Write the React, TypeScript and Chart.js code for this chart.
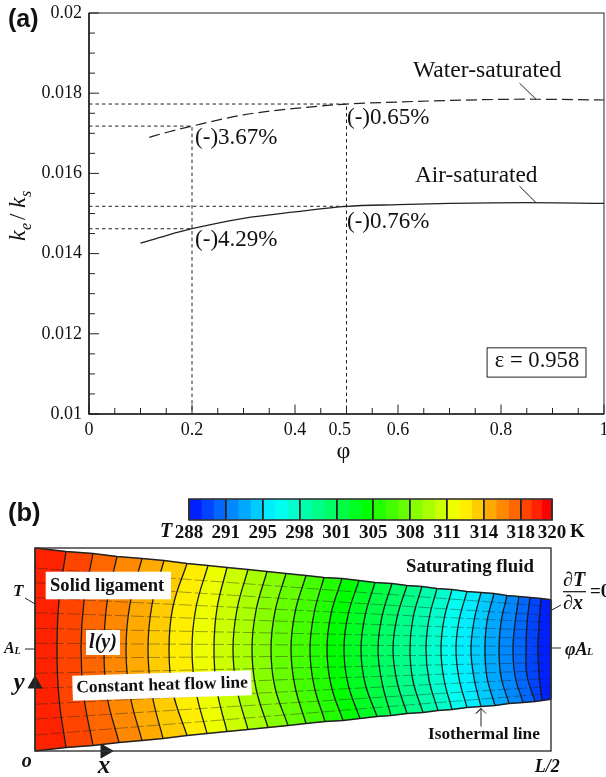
import React, { useEffect, useRef } from "react";
import { Chart, registerables } from "chart.js";

Chart.register(...registerables);

const SERIF = "'Liberation Serif'";
const SANS = "'Liberation Sans'";
const INK = "#222222";

/* ---------- panel (a) data ---------- */
const airPhi = [0.1, 0.15, 0.2, 0.3, 0.4, 0.5, 0.6, 0.7, 0.85, 1];
const airK = [0.01426, 0.01445, 0.01462, 0.01488, 0.01504, 0.01518, 0.01522, 0.01525, 0.01527, 0.01525];
const waterPhi = [0.117, 0.15, 0.2, 0.3, 0.4, 0.5, 0.6, 0.7, 0.85, 1];
const waterK = [0.0169, 0.01702, 0.01718, 0.01746, 0.01762, 0.01773, 0.01778, 0.01782, 0.01785, 0.01783];
const guideLines = [
  [[0, 0.01773], [0.5, 0.01773], [0.5, 0.01]],
  [[0, 0.01718], [0.2, 0.01718], [0.2, 0.01]],
  [[0, 0.01518], [0.5, 0.01518]],
  [[0, 0.01462], [0.2, 0.01462]],
];
const leaderLines = [
  [[0.836, 0.01825], [0.868, 0.01785]],
  [[0.836, 0.01568], [0.868, 0.01527]],
];
const xTickValues = [0, 0.05, 0.1, 0.15, 0.2, 0.25, 0.3, 0.35, 0.4, 0.45, 0.5, 0.55, 0.6, 0.65, 0.7, 0.75, 0.8, 0.85, 0.9, 0.95, 1];
const xMajor = [0, 0.2, 0.4, 0.6, 0.8, 1];
const xLabels: Record<string, string> = { "0": "0", "0.2": "0.2", "0.4": "0.4", "0.5": "0.5   ", "0.6": "0.6", "0.8": "0.8", "1": "1" };
const yTickValues = [0.01, 0.0105, 0.011, 0.0115, 0.012, 0.0125, 0.013, 0.0135, 0.014, 0.0145, 0.015, 0.0155, 0.016, 0.0165, 0.017, 0.0175, 0.018, 0.0185, 0.019, 0.0195, 0.02];
const yLabels: Record<string, string> = { "0.01": "0.01", "0.012": "0.012", "0.014": "0.014", "0.016": "0.016", "0.018": "0.018", "0.02": "0.02" };
const panelALabels: [string, number, number, number][] = [
  ["Water-saturated", 0.629, 0.01855, 23.6],
  ["Air-saturated", 0.633, 0.01593, 23.3],
  ["(-)3.67%", 0.206, 0.01689, 23],
  ["(-)4.29%", 0.206, 0.01434, 23],
  ["(-)0.65%", 0.501, 0.01738, 23],
  ["(-)0.76%", 0.501, 0.01478, 23],
];

/* ---------- colour bar data ---------- */
const cbBlockEdges = [288, 289.08, 290.17, 291.25, 292.33, 293.42, 294.5, 295.58, 296.67, 297.75, 298.83, 299.92, 301, 302.08, 303.17, 304.25, 305.33, 306.42, 307.5, 308.58, 309.67, 310.75, 311.83, 312.92, 314, 315.08, 316.17, 317.25, 318.17, 319.08, 320];
const cbTickValues = [288, 291.25, 294.5, 297.75, 301, 304.25, 307.5, 310.75, 314, 317.25, 320];
const cbTickLabels = ["288", "291", "295", "298", "301", "305", "308", "311", "314", "318", "320"];
const blockColors = [
  "#0020ff", "#0044ff", "#0068ff", "#0088ff", "#00a8ff", "#00ccff",
  "#00eeff", "#00ffee", "#00ffcc", "#00ffaa", "#00ff88", "#00ff66",
  "#00ff44", "#00ff22", "#00ff00", "#22ff00", "#44ff00", "#66ff00",
  "#88ff00", "#aaff00", "#ccff00", "#eeff00", "#ffee00", "#ffcc00",
  "#ffaa00", "#ff8800", "#ff6600", "#ff4400", "#ff2200", "#ff0000",
];

/* ---------- panel (b) data: distance along the ligament, half-height ---------- */
const isoTopX = [31, 58, 82, 107, 129, 152, 173, 192, 213, 232, 251, 271, 289, 307, 324, 340, 357, 372, 387, 402, 417, 432, 446, 459, 472, 484, 495, 506];
const isoTopY = [98, 96, 93, 91, 89, 86, 84, 82, 80, 78, 76, 74, 72, 71, 69, 67, 66, 64, 63, 61, 60, 58, 57, 56, 54, 53, 52, 51];
const isoQuarterX = [24, 49, 72, 95, 117, 138, 161, 182, 202, 221, 240, 260, 279, 296, 313, 330, 347, 362, 378, 394, 409, 424, 439, 452, 466, 480, 492, 504];
const isoMidX = [22, 46, 69, 91, 113, 134, 157, 179, 198, 217, 236, 256, 275, 292, 309, 326, 343, 358, 375, 391, 406, 421, 436, 450, 464, 478, 491, 503];
const isoBotX = [31, 58, 84, 107, 128, 152, 172, 192, 213, 233, 253, 271, 290, 308, 325, 342, 356, 372, 388, 403, 417, 432, 446, 460, 474, 488, 500, 507];
const isoBotY = [-98, -96, -93, -91, -89, -86, -84, -82, -80, -78, -76, -74, -72, -71, -69, -67, -66, -64, -63, -61, -60, -58, -57, -56, -54, -53, -52, -51];
const leftEdge = [[0, 101.5], [0, 0], [0, -101.5]];
const rightEdge = [[516, 49.7], [516, 0], [516, -49.7]];
const flowLeftY = [81.5, 66.8, 51.8, 36.8, 21.2, 6.2, -8.8, -23.8, -38.8, -54.8, -69.5, -85.5];
const flowRightY = [43, 34, 27, 19, 11, 3, -5, -13, -21, -29, -37, -44];
const panelBLeaders = [
  [[-10, 51.5], [0, 45.5]],
  [[-10, 0.5], [0, 0.5]],
  [[516, 39], [526, 44.5]],
  [[516, 1.5], [526, 1.5]],
  [[446, -77], [446, -59], [441, -64], [446, -59], [451, -64]],
];
const axisArrows = [
  { x: 0, y: -34.5, rotation: 0 },
  { x: 70, y: -101.5, rotation: 90 },
];

const solidLine = (points: number[][], width: number, dash: number[] = [], color = INK) => ({
  type: "line",
  data: points.map(([x, y]) => ({ x, y })),
  borderColor: color,
  borderWidth: width,
  borderDash: dash,
  pointRadius: 0,
  pointHoverRadius: 0,
  pointBorderWidth: 0,
  pointHoverBorderWidth: 0,
  tension: 0,
  clip: false,
  fill: false,
});

function drawText(ctx: any, text: string, x: number, y: number, font: string, align: any = "left", color = "#111") {
  ctx.font = font;
  ctx.fillStyle = color;
  ctx.textAlign = align;
  ctx.textBaseline = "middle";
  ctx.fillText(text, x, y);
}

const panelAPlugin = {
  id: "panelA",
  afterDatasetsDraw(chart: any) {
    const { ctx, chartArea: a, scales } = chart;
    const sx = scales.x;
    const sy = scales.y;
    ctx.save();
    // frame
    ctx.strokeStyle = INK;
    ctx.lineWidth = 1;
    ctx.strokeRect(a.left, a.top, a.right - a.left, a.bottom - a.top);
    ctx.lineWidth = 1.6;
    ctx.beginPath();
    ctx.moveTo(a.left, a.top);
    ctx.lineTo(a.left, a.bottom);
    ctx.lineTo(a.right, a.bottom);
    ctx.stroke();
    // inward ticks
    ctx.lineWidth = 1;
    sx.ticks.forEach((t: any) => {
      const p = sx.getPixelForValue(t.value);
      const len = xMajor.includes(t.value) ? 9.5 : 6;
      ctx.beginPath();
      ctx.moveTo(p, a.bottom);
      ctx.lineTo(p, a.bottom - len);
      ctx.stroke();
    });
    sy.ticks.forEach((t: any) => {
      const p = sy.getPixelForValue(t.value);
      const len = yLabels[String(t.value)] ? 10 : 6;
      ctx.beginPath();
      ctx.moveTo(a.left, p);
      ctx.lineTo(a.left + len, p);
      ctx.stroke();
    });
    // annotations
    panelALabels.forEach(([text, x, y, size]) =>
      drawText(ctx, text, sx.getPixelForValue(x), sy.getPixelForValue(y), `${size}px ${SERIF}`)
    );
    // epsilon box
    const bx0 = sx.getPixelForValue(0.773);
    const bx1 = sx.getPixelForValue(0.965);
    const by0 = sy.getPixelForValue(0.01165);
    const by1 = sy.getPixelForValue(0.01092);
    ctx.lineWidth = 1;
    ctx.strokeRect(bx0, by0, bx1 - bx0, by1 - by0);
    drawText(ctx, "ε = 0.958", sx.getPixelForValue(0.788), sy.getPixelForValue(0.01132), `22.6px ${SERIF}`);
    // panel tag
    drawText(ctx, "(a)", 8, 20, `bold 25px ${SANS}`);
    // y axis title, rotated, with subscripts
    const parts: [string, number, number, string][] = [
      ["k", 241, 0, `italic 24px ${SERIF}`],
      ["e", 230, 6, `italic 16px ${SERIF}`],
      ["/", 220, 0, `23px ${SERIF}`],
      ["k", 208, 0, `italic 24px ${SERIF}`],
      ["s", 197, 6, `italic 16px ${SERIF}`],
    ];
    parts.forEach(([t, py, off, font]) => {
      ctx.save();
      ctx.translate(25 + off, py);
      ctx.rotate(-Math.PI / 2);
      ctx.font = font;
      ctx.fillStyle = "#111";
      ctx.textAlign = "left";
      ctx.textBaseline = "alphabetic";
      ctx.fillText(t, 0, 0);
      ctx.restore();
    });
    ctx.restore();
  },
};

const colorBarPlugin = {
  id: "colorBarFrame",
  afterDraw(chart: any) {
    const { ctx, chartArea: a } = chart;
    ctx.save();
    ctx.strokeStyle = "#333";
    ctx.lineWidth = 1.6;
    ctx.strokeRect(a.left, a.top, a.right - a.left, a.bottom - a.top);
    ctx.restore();
  },
};

const BOUNDARY_COUNT = isoTopX.length + 2;

const panelBPlugin = {
  id: "panelB",
  beforeDatasetsDraw(chart: any) {
    const { ctx, chartArea: a } = chart;
    ctx.save();
    for (let i = 0; i < BOUNDARY_COUNT - 1; i++) {
      const m0 = chart.getDatasetMeta(i);
      const m1 = chart.getDatasetMeta(i + 1);
      m0.dataset.updateControlPoints(a);
      m1.dataset.updateControlPoints(a);
      const p = m0.data;
      const q = m1.data;
      ctx.beginPath();
      ctx.moveTo(p[0].x, p[0].y);
      for (let k = 0; k < p.length - 1; k++) {
        ctx.bezierCurveTo(p[k].cp2x, p[k].cp2y, p[k + 1].cp1x, p[k + 1].cp1y, p[k + 1].x, p[k + 1].y);
      }
      ctx.lineTo(q[q.length - 1].x, q[q.length - 1].y);
      for (let k = q.length - 1; k > 0; k--) {
        ctx.bezierCurveTo(q[k].cp1x, q[k].cp1y, q[k - 1].cp2x, q[k - 1].cp2y, q[k - 1].x, q[k - 1].y);
      }
      ctx.closePath();
      ctx.fillStyle = blockColors[blockColors.length - 2 - i];
      ctx.strokeStyle = ctx.fillStyle;
      ctx.lineWidth = 0.5;
      ctx.fill();
      ctx.stroke();
    }
    ctx.restore();
  },
  afterDatasetsDraw(chart: any) {
    const { ctx, chartArea: a, scales } = chart;
    const X = (v: number) => scales.x.getPixelForValue(v);
    const Y = (v: number) => scales.y.getPixelForValue(v);
    const whiteBox = (x0: number, x1: number, y0: number, y1: number) => {
      ctx.fillStyle = "#ffffff";
      ctx.fillRect(X(x0), Y(y0), X(x1) - X(x0), Y(y1) - Y(y0));
    };
    ctx.save();
    ctx.strokeStyle = "#333";
    ctx.lineWidth = 1.4;
    ctx.strokeRect(a.left, a.top, a.right - a.left, a.bottom - a.top);

    whiteBox(10.7, 136, 77.8, 50.2);
    drawText(ctx, "Solid ligament", X(15), Y(63.5), `bold 18.6px ${SERIF}`);
    whiteBox(51, 85, 19.5, -5.5);
    drawText(ctx, "l(y)", X(68), Y(6.8), `italic bold 20px ${SERIF}`, "center");

    ctx.save();
    ctx.translate(X(127), Y(-36));
    ctx.rotate((-1.7 * Math.PI) / 180);
    ctx.fillStyle = "#fff";
    ctx.fillRect(-89.5, -12.5, 179, 25);
    drawText(ctx, "Constant heat flow line", 0, 0, `bold 17.4px ${SERIF}`, "center");
    ctx.restore();

    drawText(ctx, "Saturating fluid", X(371), Y(82.5), `bold 18.8px ${SERIF}`);
    drawText(ctx, "Isothermal line", X(393), Y(-85.5), `bold 17.3px ${SERIF}`);
    drawText(ctx, "T", X(-22), Y(57.5), `italic bold 17px ${SERIF}`);
    drawText(ctx, "A", X(-31), Y(0.5), `italic bold 16px ${SERIF}`);
    drawText(ctx, "L", X(-20.5), Y(-1.5), `italic bold 10px ${SERIF}`);
    drawText(ctx, "y", X(-16), Y(-34.5), `italic bold 25px ${SERIF}`, "center");
    drawText(ctx, "x", X(69), Y(-117), `italic bold 25px ${SERIF}`, "center");
    drawText(ctx, "o", X(-8.3), Y(-112), `italic bold 20px ${SERIF}`, "center");
    drawText(ctx, "L/2", X(499.7), Y(-117.5), `italic bold 18px ${SERIF}`);
    drawText(ctx, "∂T", X(528), Y(68.5), `italic bold 20px ${SERIF}`);
    drawText(ctx, "∂x", X(528), Y(45.5), `italic bold 20px ${SERIF}`);
    ctx.strokeStyle = "#111";
    ctx.lineWidth = 1.2;
    ctx.beginPath();
    ctx.moveTo(X(528), Y(57.8));
    ctx.lineTo(X(551), Y(57.8));
    ctx.stroke();
    drawText(ctx, "=0", X(555), Y(57.5), `bold 19px ${SERIF}`);
    drawText(ctx, "φA", X(530), Y(-0.5), `italic bold 18px ${SERIF}`);
    drawText(ctx, "L", X(552), Y(-2.5), `italic bold 10px ${SERIF}`);
    drawText(ctx, "(b)", X(-27), Y(135.5), `bold 25.5px ${SANS}`);
    drawText(ctx, "T", X(125), Y(117.5), `italic bold 20px ${SERIF}`);
    drawText(ctx, "K", X(535), Y(117.5), `bold 19px ${SERIF}`);
    ctx.restore();
  },
};

export default function App() {
  const refA = useRef<HTMLCanvasElement>(null);
  const refB = useRef<HTMLCanvasElement>(null);
  const refC = useRef<HTMLCanvasElement>(null);

  useEffect(() => {
    const chartA = new Chart(refA.current as any, {
      type: "line",
      data: {
        datasets: [
          { ...solidLine(airPhi.map((p, i) => [p, airK[i]]), 1.3), cubicInterpolationMode: "monotone", label: "Air-saturated" },
          { ...solidLine(waterPhi.map((p, i) => [p, waterK[i]]), 1.2, [11, 5]), cubicInterpolationMode: "monotone", label: "Water-saturated" },
          ...guideLines.map((g) => solidLine(g, 1, [3.5, 3])),
          ...leaderLines.map((g) => solidLine(g, 1)),
        ] as any,
      },
      plugins: [panelAPlugin],
      options: {
        responsive: false,
        animation: false,
        layout: { autoPadding: false, padding: { top: 13, right: 2, left: 0, bottom: 0 } },
        plugins: { legend: { display: false }, tooltip: { enabled: false } },
        scales: {
          x: {
            type: "linear",
            min: 0,
            max: 1,
            afterBuildTicks: (s: any) => { s.ticks = xTickValues.map((value) => ({ value })); },
            afterFit: (s: any) => { s.height = 66; s.paddingLeft = 0; s.paddingRight = 0; },
            grid: { display: false, drawTicks: false },
            border: { display: false },
            ticks: {
              autoSkip: false,
              maxRotation: 0,
              padding: 5,
              color: "#111",
              font: { family: "Liberation Serif", size: 18 },
              callback: (v: any) => xLabels[String(v)] ?? "",
            },
            title: {
              display: true,
              text: "φ ",
              color: "#111",
              font: { family: "Liberation Serif", size: 24 },
              padding: { top: 0, bottom: 13.6 },
            },
          },
          y: {
            type: "linear",
            min: 0.01,
            max: 0.02,
            afterBuildTicks: (s: any) => { s.ticks = yTickValues.map((value) => ({ value })); },
            afterFit: (s: any) => { s.width = 89; s.paddingTop = 0; s.paddingBottom = 0; },
            grid: { display: false, drawTicks: false },
            border: { display: false },
            ticks: {
              autoSkip: false,
              padding: 7,
              color: "#111",
              font: { family: "Liberation Serif", size: 18 },
              callback: (v: any) => yLabels[String(v)] ?? "",
            },
          },
        },
      } as any,
    });

    const boundaries = [
      leftEdge,
      ...isoTopX.map((_, i) => [
        [isoTopX[i], isoTopY[i]],
        [isoQuarterX[i], isoTopY[i] / 2],
        [isoMidX[i], 0],
        [isoQuarterX[i], isoBotY[i] / 2],
        [isoBotX[i], isoBotY[i]],
      ]),
      rightEdge,
    ];
    const topOutline = [leftEdge[0], ...isoTopX.map((x, i) => [x, isoTopY[i]]), rightEdge[0]];
    const botOutline = [leftEdge[2], ...isoBotX.map((x, i) => [x, isoBotY[i]]), rightEdge[2]];

    const chartB = new Chart(refB.current as any, {
      type: "line",
      data: {
        datasets: [
          ...boundaries.map((b) => ({ ...solidLine(b, 1.3, [], "#1a1a1a"), tension: 0.4, capBezierPoints: false })),
          solidLine(topOutline, 1.4),
          solidLine(botOutline, 1.4),
          ...panelBLeaders.map((l) => solidLine(l, 1)),
          {
            type: "scatter",
            data: axisArrows.map(({ x, y }) => ({ x, y })),
            pointStyle: "triangle",
            pointRadius: 8,
            pointRotation: axisArrows.map((a) => a.rotation),
            pointBackgroundColor: INK,
            pointBorderColor: INK,
            showLine: false,
            clip: false,
          },
          ...flowLeftY.map((y, i) => solidLine([[0, y], [516, flowRightY[i]]], 0.9, [13, 3], "rgba(30,30,30,0.45)")),
        ] as any,
      },
      plugins: [panelBPlugin],
      options: {
        responsive: false,
        animation: false,
        layout: { autoPadding: false, padding: { top: 58, right: 55, left: 35, bottom: 26 } },
        plugins: { legend: { display: false }, tooltip: { enabled: false } },
        scales: {
          x: { type: "linear", min: 0, max: 516, display: false },
          y: { type: "linear", min: -101.5, max: 101.5, display: false },
        },
      } as any,
    });

    const chartC = new Chart(refC.current as any, {
      type: "bar",
      data: {
        labels: ["T"],
        datasets: blockColors.map((color, i) => ({
          data: [[cbBlockEdges[i], cbBlockEdges[i + 1]]],
          backgroundColor: color,
          borderWidth: 0,
          grouped: false,
          barPercentage: 1,
          categoryPercentage: 1,
        })) as any,
      },
      plugins: [colorBarPlugin],
      options: {
        indexAxis: "y",
        responsive: false,
        animation: false,
        layout: { autoPadding: false, padding: { top: 9, right: 54, left: 189, bottom: 0 } },
        plugins: { legend: { display: false }, tooltip: { enabled: false } },
        scales: {
          x: {
            type: "linear",
            min: 288,
            max: 320,
            afterBuildTicks: (s: any) => { s.ticks = cbTickValues.map((value) => ({ value })); },
            afterFit: (s: any) => { s.height = 25; s.paddingLeft = 0; s.paddingRight = 0; },
            grid: { drawTicks: false, drawOnChartArea: true, color: "#222", lineWidth: 1.8, z: 1 },
            border: { display: false },
            ticks: {
              autoSkip: false,
              maxRotation: 0,
              padding: 2,
              color: "#111",
              font: { family: "Liberation Serif", size: 19, weight: "bold" },
              callback: (v: any) => cbTickLabels[cbTickValues.indexOf(v)] ?? "",
            },
          },
          y: { display: false },
        },
      } as any,
    });

    return () => {
      chartA.destroy();
      chartB.destroy();
      chartC.destroy();
    };
  }, []);

  const layer = (top: number, h: number): React.CSSProperties => ({
    position: "absolute",
    left: 0,
    top,
    width: 606,
    height: h,
    display: "block",
  });

  return (
    <div style={{ position: "absolute", left: 0, top: 0, width: 606, height: 777, overflow: "hidden", background: "#fff" }}>
      <canvas ref={refA} width={606} height={480} style={layer(0, 480)} />
      <canvas ref={refB} width={606} height={287} style={layer(490, 287)} />
      <canvas ref={refC} width={606} height={55} style={layer(490, 55)} />
    </div>
  );
}
